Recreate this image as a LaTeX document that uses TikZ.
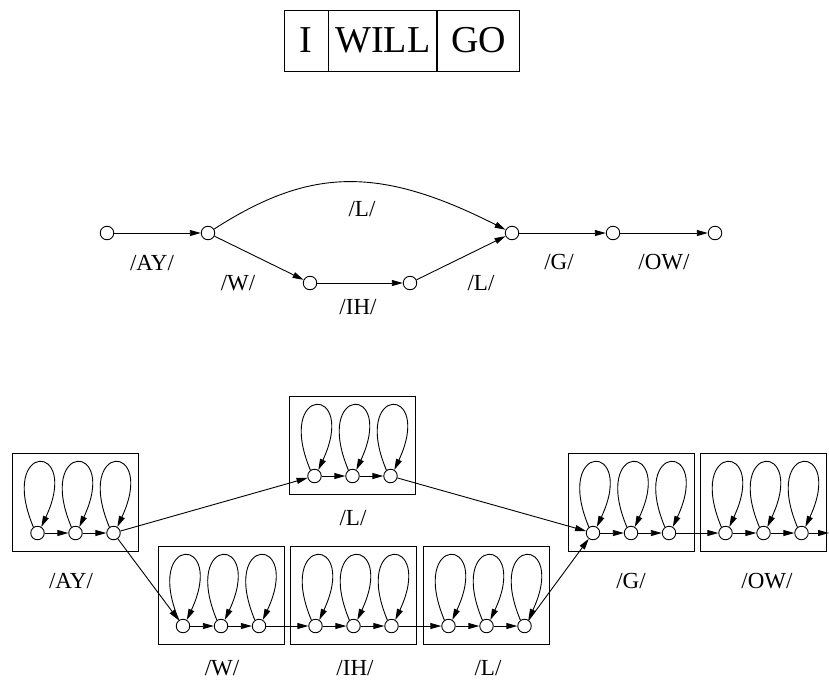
\documentclass[tikz,border=0pt]{standalone}
\usepackage{fontspec}
\setmainfont{Liberation Serif}
\usetikzlibrary{arrows.meta}
\tikzset{
  st/.style={circle,draw,line width=0.9pt,minimum size=13.5pt,inner sep=0pt},
  arr/.style={line width=0.9pt,-{Triangle[length=11pt,width=6pt]}},
  hbox/.style={draw,line width=0.9pt,minimum width=126pt,minimum height=98pt,inner sep=0pt},
  wbox/.style={draw,line width=0.9pt,minimum height=61pt,inner sep=0pt,font=\fontsize{38}{40}\selectfont},
  lab/.style={font=\fontsize{23}{26}\selectfont,inner sep=0pt},
}
\newcommand{\hmmunit}[4]{%
  % #1 name, #2 center x, #3 state y
  \node[hbox] (#1box) at (#2,#3-31) {};
  \node[st] (#11) at (#2-38,#3) {};
  \node[st] (#12) at (#2,#3) {};
  \node[st] (#13) at (#2+38,#3) {};
  \foreach \k in {1,2,3}{
    \draw[arr] (#1\k.125) .. controls +(-36,-86) and +(40,-86) .. (#1\k.58);
  }
  \draw[arr] (#11) -- (#12);
  \draw[arr] (#12) -- (#13);
}
\begin{document}
\begin{tikzpicture}[x=1pt,y=-1pt]
\useasboundingbox (0,0) rectangle (829,685);
% word boxes
\node[wbox,minimum width=44pt] (w1) at (306,40.5) {I};
\node[wbox,minimum width=108pt,anchor=west] (w2) at (w1.east) {WILL};
\node[wbox,minimum width=82pt,anchor=west] (w3) at (w2.east) {GO};
% pronunciation network
\node[st] (m1) at (107,233) {};
\node[st] (m2) at (208,233) {};
\node[st] (m3) at (310,283) {};
\node[st] (m4) at (410,283) {};
\node[st] (m5) at (512,233) {};
\node[st] (m6) at (613,233) {};
\node[st] (m7) at (715,233) {};
\draw[arr] (m1) -- (m2);
\draw[arr] (m2) -- (m3);
\draw[arr] (m3) -- (m4);
\draw[arr] (m4) -- (m5);
\draw[arr] (m2) .. controls (309,168) and (378,165) .. (m5);
\draw[arr] (m5) -- (m6);
\draw[arr] (m6) -- (m7);
\node[lab] (lAY) at (152,263) {/AY/};
\node[lab] (lW) at (238,283) {/W/};
\node[lab] (lL1) at (362,209) {/L/};
\node[lab] (lIH) at (358,307) {/IH/};
\node[lab] (lL2) at (481,283) {/L/};
\node[lab] (lG) at (559,262) {/G/};
\node[lab] (lOW) at (664,262) {/OW/};
% HMM network
\hmmunit{ay}{75.5}{533}{}
\hmmunit{la}{352.5}{476}{}
\hmmunit{w}{221}{626}{}
\hmmunit{ih}{353.5}{626}{}
\hmmunit{lb}{486.5}{626}{}
\hmmunit{g}{631}{533}{}
\hmmunit{ow}{763.5}{533}{}
\coordinate (out) at (829,533);
\draw[arr] (ay3) -- (la1);
\draw[arr] (ay3) -- (w1);
\draw[arr] (la3) -- (g1);
\draw[arr] (w3) -- (ih1);
\draw[arr] (ih3) -- (lb1);
\draw[arr] (lb3) -- (g1);
\draw[arr] (g3) -- (ow1);
\draw[arr] (ow3) -- (out);
\node[lab] (tAY) at (71,581) {/AY/};
\node[lab] (tL) at (353,518) {/L/};
\node[lab] (tG) at (631,581) {/G/};
\node[lab] (tOW) at (767,581) {/OW/};
\node[lab] (tW) at (222,668) {/W/};
\node[lab] (tIH) at (355,668) {/IH/};
\node[lab] (tL2) at (488,668) {/L/};
\end{tikzpicture}
\end{document}
